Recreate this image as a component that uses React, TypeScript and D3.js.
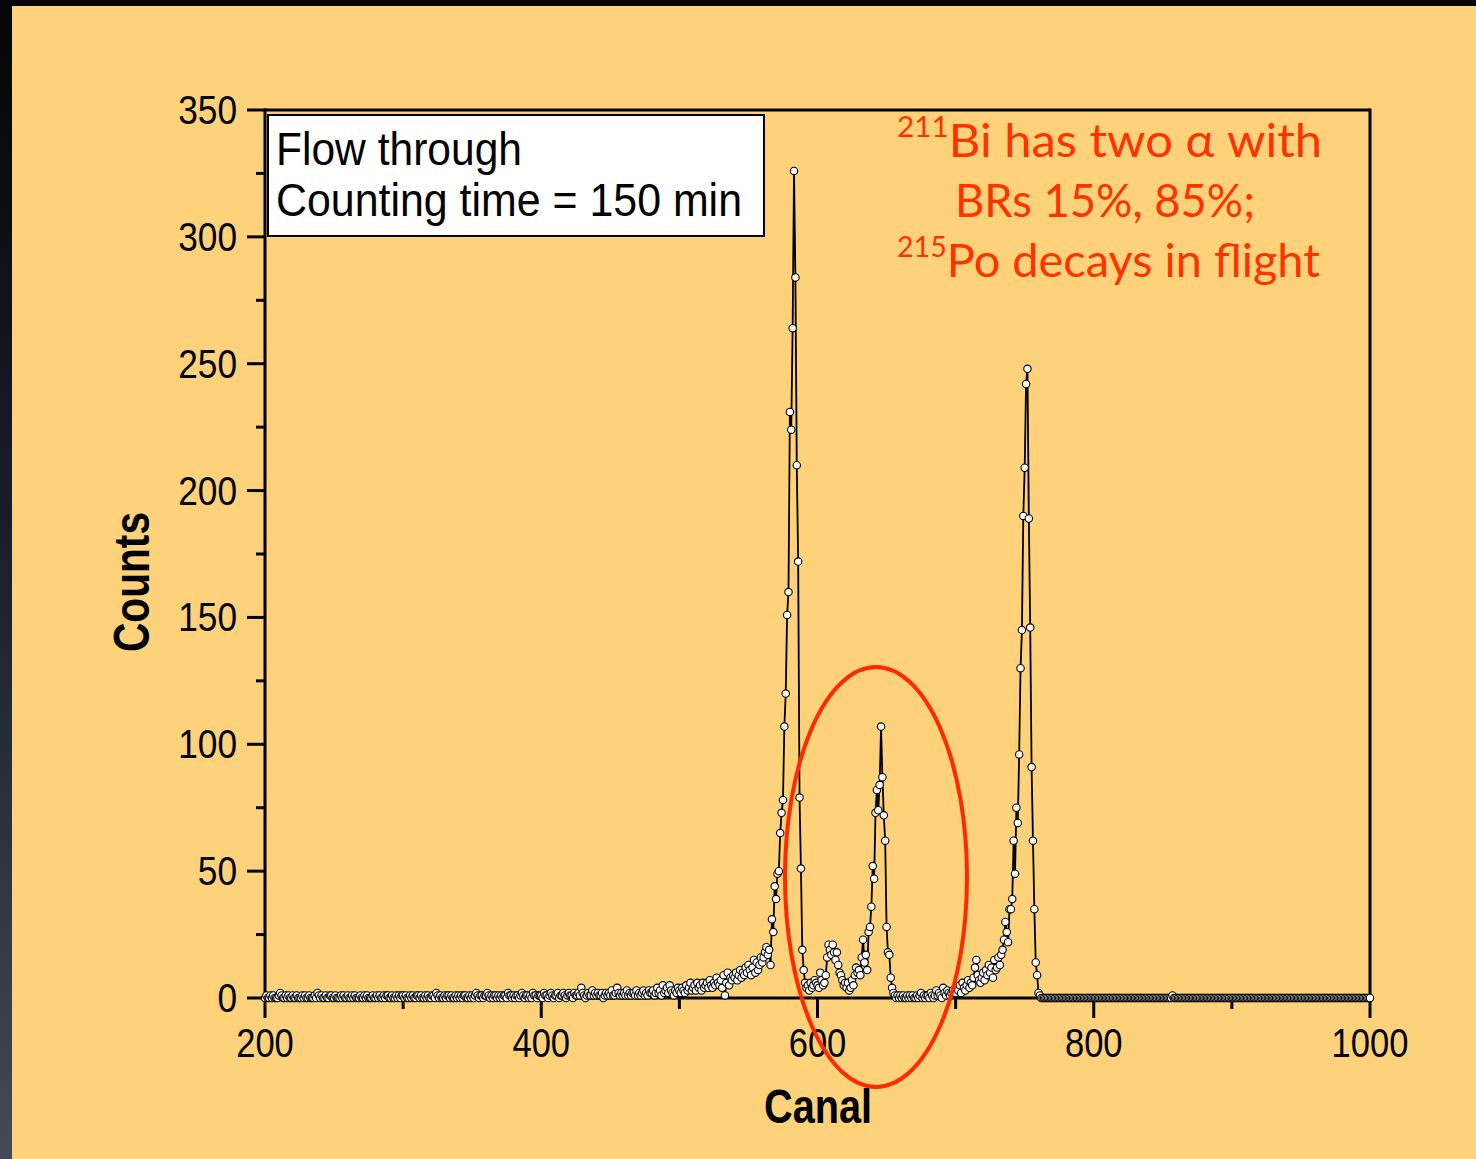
import React from "react";
import * as d3 from "d3";

const startCanal = 200;

// Counts per channel, 200-399
const countsA = [
  0,1,0,0,1,0,1,0,0,0,1,2,1,0,0,1,0,1,0,0,
  1,0,0,1,0,0,0,1,0,1,0,0,1,0,0,0,1,0,2,1,
  0,1,0,0,1,0,0,1,1,0,0,1,0,0,0,1,0,1,0,0,
  1,0,0,1,0,1,0,0,0,1,0,0,1,0,1,0,0,0,1,0,
  0,1,0,1,0,0,1,0,1,1,0,0,1,0,0,1,0,1,0,1,
  1,0,1,0,0,1,0,1,0,0,1,1,0,1,0,0,1,0,1,0,
  0,1,1,0,2,1,0,1,0,0,1,0,1,1,0,1,0,0,1,0,
  1,0,1,0,1,1,0,0,1,0,1,0,1,2,1,0,1,1,0,1,
  1,2,1,0,1,0,1,1,0,1,0,1,0,1,1,0,2,1,1,0,
  1,0,1,1,0,1,2,1,0,1,1,0,1,0,2,1,1,0,1,1,
];
// 400-599
const countsB = [
  1,0,2,1,1,0,1,2,1,0,1,1,2,0,1,1,2,1,0,1,
  2,1,1,0,2,1,1,2,1,4,2,1,0,1,2,1,1,3,1,2,
  1,2,1,1,2,0,1,2,1,2,1,3,1,1,2,4,2,1,2,1,
  2,1,3,1,2,1,2,2,1,3,1,2,1,2,3,1,2,1,3,2,
  2,3,1,2,4,2,3,1,5,2,3,4,2,5,3,2,1,3,2,4,
  3,2,4,3,2,5,3,4,6,3,4,5,3,6,4,5,3,6,4,5,
  6,4,7,5,4,6,5,8,6,5,7,4,9,1,6,10,5,8,7,9,
  8,10,7,9,11,8,10,9,12,10,13,11,9,12,15,10,14,11,13,16,
  14,16,18,20,17,19,13,31,26,44,39,49,50,65,73,78,107,120,151,160,
  231,224,264,326,284,210,172,79,51,19,11,6,4,5,3,6,4,5,7,6,
];
// 600-799
const countsC = [
  5,4,10,7,5,6,9,16,21,19,17,21,18,15,18,13,10,9,7,5,
  6,4,6,3,4,7,5,9,12,10,11,9,16,23,14,17,11,26,28,36,
  52,47,73,82,74,84,107,87,72,62,28,18,17,8,4,2,1,0,1,0,
  1,0,1,0,0,1,0,1,0,1,0,0,1,0,1,2,0,1,0,1,
  1,0,2,1,0,1,3,1,2,1,0,4,2,1,3,2,1,2,3,2,
  2,4,3,5,2,6,4,3,5,7,4,6,5,8,12,15,9,7,6,8,
  10,7,11,9,13,10,12,8,15,11,12,16,13,17,19,23,30,26,22,35,
  35,39,62,49,75,69,96,130,145,190,209,242,248,189,146,91,62,35,14,9,
  2,1,0,0,0,0,0,0,0,0,0,0,0,0,0,0,0,0,0,0,
  0,0,0,0,0,0,0,0,0,0,0,0,0,0,0,0,0,0,0,0,
];
// 800-1000
const countsD = [
  0,0,0,0,0,0,0,0,0,0,0,0,0,0,0,0,0,0,0,0,
  0,0,0,0,0,0,0,0,0,0,0,0,0,0,0,0,0,0,0,0,
  0,0,0,0,0,0,0,0,0,0,0,0,0,0,0,0,0,1,0,0,
  0,0,0,0,0,0,0,0,0,0,0,0,0,0,0,0,0,0,0,0,
  0,0,0,0,0,0,0,0,0,0,0,0,0,0,0,0,0,0,0,0,
  0,0,0,0,0,0,0,0,0,0,0,0,0,0,0,0,0,0,0,0,
  0,0,0,0,0,0,0,0,0,0,0,0,0,0,0,0,0,0,0,0,
  0,0,0,0,0,0,0,0,0,0,0,0,0,0,0,0,0,0,0,0,
  0,0,0,0,0,0,0,0,0,0,0,0,0,0,0,0,0,0,0,0,
  0,0,0,0,0,0,0,0,0,0,0,0,0,0,0,0,0,0,0,0,
  0,
];

const xTicksMajor = [200, 400, 600, 800, 1000];
const xTicksMinor = [300, 500, 700, 900];
const yTicksMajor = [0, 50, 100, 150, 200, 250, 300, 350];
const yTicksMinor = [25, 75, 125, 175, 225, 275, 325];

const legendLines = ["Flow through", "Counting time = 150 min"];

const W = 1476;
const H = 1159;

export default function App() {
  const x = d3.scaleLinear().domain([200, 1000]).range([265, 1370]);
  const y = d3.scaleLinear().domain([0, 350]).range([998, 110]);

  const all = [...countsA, ...countsB, ...countsC, ...countsD];
  const data = all.map((v, i) => ({ c: startCanal + i, v }));
  const line = d3
    .line<{ c: number; v: number }>()
    .x((d) => x(d.c))
    .y((d) => y(d.v));

  const tickFont = "'Liberation Sans', Arial, Helvetica, sans-serif";
  const red = "#ff3300";
  const gill = "Lato, 'Open Sans', sans-serif";

  return (
    <svg
      width={W}
      height={H}
      style={{ position: "absolute", left: 0, top: 0 }}
      xmlns="http://www.w3.org/2000/svg"
    >
      <defs>
        <linearGradient id="side" x1="0" y1="0" x2="0" y2="1">
          <stop offset="0" stopColor="#050505" />
          <stop offset="0.5" stopColor="#1c2030" />
          <stop offset="1" stopColor="#434958" />
        </linearGradient>
      </defs>
      <rect x={0} y={0} width={W} height={H} fill="url(#side)" />
      <rect x={0} y={0} width={W} height={6} fill="#050505" />
      <rect x={12} y={6} width={W - 12} height={H - 6} fill="#FDD27A" />

      {/* axes frame */}
      <g stroke="#000" strokeWidth={3} fill="none">
        <line x1={265} y1={110} x2={1370} y2={110} />
        <line x1={265} y1={998} x2={1370} y2={998} />
        <line x1={265} y1={108.5} x2={265} y2={999.5} />
        <line x1={1370} y1={108.5} x2={1370} y2={999.5} />
        {yTicksMajor.map((t) => (
          <line key={"ym" + t} x1={247} x2={265} y1={y(t)} y2={y(t)} />
        ))}
        {yTicksMinor.map((t) => (
          <line key={"yn" + t} x1={256} x2={265} y1={y(t)} y2={y(t)} />
        ))}
        {xTicksMajor.map((t) => (
          <line key={"xm" + t} x1={x(t)} x2={x(t)} y1={998} y2={1018} />
        ))}
        {xTicksMinor.map((t) => (
          <line key={"xn" + t} x1={x(t)} x2={x(t)} y1={998} y2={1009} />
        ))}
      </g>

      {/* tick labels */}
      <g fontFamily={tickFont} fontSize={40} fill="#000">
        {yTicksMajor.map((t) => {
          const s = String(t);
          return (
            <text
              key={"yl" + t}
              x={237}
              y={y(t) + 14}
              textAnchor="end"
              textLength={s.length * 19.6}
              lengthAdjust="spacingAndGlyphs"
            >
              {s}
            </text>
          );
        })}
        {xTicksMajor.map((t) => {
          const s = String(t);
          return (
            <text
              key={"xl" + t}
              x={x(t)}
              y={1057}
              textAnchor="middle"
              textLength={s.length * 19.2}
              lengthAdjust="spacingAndGlyphs"
            >
              {s}
            </text>
          );
        })}
      </g>

      {/* axis titles */}
      <text
        x={0}
        y={0}
        transform="translate(149,582) rotate(-90)"
        fontFamily={tickFont}
        fontWeight="bold"
        fontSize={50}
        textAnchor="middle"
        textLength={140}
        lengthAdjust="spacingAndGlyphs"
      >
        Counts
      </text>
      <text
        x={818}
        y={1123}
        fontFamily={tickFont}
        fontWeight="bold"
        fontSize={49}
        textAnchor="middle"
        textLength={108}
        lengthAdjust="spacingAndGlyphs"
      >
        Canal
      </text>

      {/* legend box */}
      <rect x={268} y={115} width={496} height={121} fill="#fff" stroke="#000" strokeWidth={2} />
      <text
        x={276}
        y={165}
        fontFamily={tickFont}
        fontSize={46}
        textLength={246}
        lengthAdjust="spacingAndGlyphs"
      >
        {legendLines[0]}
      </text>
      <text
        x={276}
        y={216}
        fontFamily={tickFont}
        fontSize={46}
        textLength={466}
        lengthAdjust="spacingAndGlyphs"
      >
        {legendLines[1]}
      </text>

      {/* data */}
      <path d={line(data) || ""} fill="none" stroke="#000" strokeWidth={1.8} />
      <g fill="#fff" stroke="#000" strokeWidth={1.1}>
        {data.map((d) => (
          <circle key={d.c} cx={x(d.c)} cy={y(d.v)} r={3.7} />
        ))}
      </g>

      {/* annotation */}
      <ellipse cx={876} cy={877} rx={91} ry={210} fill="none" stroke="#ff2a00" strokeWidth={4} />
      <g fontFamily={gill} fill={red} fontSize={46}>
        <text x={897} y={157} textLength={425} lengthAdjust="spacingAndGlyphs">
          <tspan fontSize={28} dy={-20}>211</tspan>
          <tspan dy={20}>Bi has two α with</tspan>
        </text>
        <text x={955} y={217} textLength={300} lengthAdjust="spacingAndGlyphs">
          BRs 15%, 85%;
        </text>
        <text x={897} y={277} textLength={423} lengthAdjust="spacingAndGlyphs">
          <tspan fontSize={28} dy={-20}>215</tspan>
          <tspan dy={20}>Po decays in flight</tspan>
        </text>
      </g>
    </svg>
  );
}
